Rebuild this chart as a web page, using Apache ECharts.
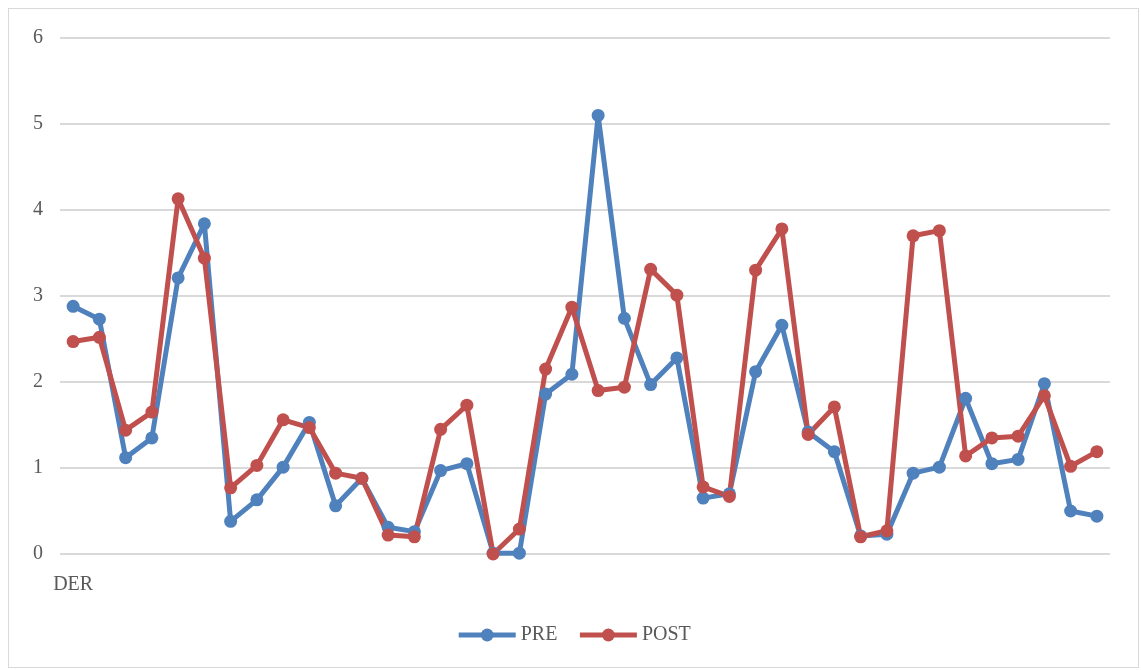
<!DOCTYPE html>
<html>
<head>
<meta charset="utf-8">
<script src="https://cdn.jsdelivr.net/npm/echarts@6/dist/echarts.min.js"></script>
<style>
 html, body { margin: 0; padding: 0; background: #fff; }
 #chart { position: absolute; left: 8px; top: 8px; width: 1131px; height: 660px; border: 1px solid #d9d9d9; box-sizing: border-box; }
</style>
</head>
<body>
<div id="chart"></div>
<script>
// x categories (only the first one is labelled)
var categories = ['DER'];
for (var i = 1; i < 40; i++) categories.push('');

var pre = [2.88, 2.73, 1.12, 1.35, 3.21, 3.84, 0.38, 0.63, 1.01, 1.53,
           0.56, 0.88, 0.31, 0.26, 0.97, 1.05, 0.01, 0.01, 1.86, 2.09,
           5.10, 2.74, 1.97, 2.28, 0.65, 0.70, 2.12, 2.66, 1.42, 1.19,
           0.21, 0.23, 0.94, 1.01, 1.81, 1.05, 1.10, 1.98, 0.50, 0.44];
var post = [2.47, 2.52, 1.44, 1.65, 4.13, 3.44, 0.77, 1.03, 1.56, 1.47,
            0.94, 0.88, 0.22, 0.20, 1.45, 1.73, 0.00, 0.29, 2.15, 2.87,
            1.90, 1.94, 3.31, 3.01, 0.78, 0.67, 3.30, 3.78, 1.39, 1.71,
            0.20, 0.27, 3.70, 3.76, 1.14, 1.35, 1.37, 1.84, 1.02, 1.19];

var seriesNames = ['PRE', 'POST'];
var colors = ['#4F81BD', '#C0504D'];
var font = '"Liberation Serif", "DejaVu Serif", serif';

var myChart = echarts.init(document.getElementById('chart'));
var option = {
 animation: false,
 grid: { left: 51, right: 28, top: 29, bottom: 113 },
 legend: {
  bottom: 17,
  itemWidth: 57, itemHeight: 16, itemGap: 20,
  lineStyle: { width: 5 },
  textStyle: { color: '#595959', fontSize: 20, fontFamily: font },
  data: seriesNames
 },
 xAxis: {
  type: 'category',
  data: categories,
  boundaryGap: true,
  axisLine: { show: false },
  axisTick: { show: false },
  axisLabel: { interval: 0, color: '#595959', fontSize: 20, fontFamily: font, margin: 21 }
 },
 yAxis: {
  type: 'value',
  min: 0, max: 6, interval: 1,
  axisLine: { show: false },
  axisTick: { show: false },
  axisLabel: { color: '#595959', fontSize: 20, fontFamily: font, margin: 17 },
  splitLine: { lineStyle: { color: '#d9d9d9', width: 2 } }
 },
 series: []
};
var dataSets = [pre, post];
for (var s = 0; s < dataSets.length; s++) {
 option.series.push({
  name: seriesNames[s],
  type: 'line',
  data: dataSets[s],
  symbol: 'circle',
  symbolSize: 13,
  lineStyle: { width: 5, color: colors[s] },
  itemStyle: { color: colors[s] }
 });
}
myChart.setOption(option);
</script>
</body>
</html>
